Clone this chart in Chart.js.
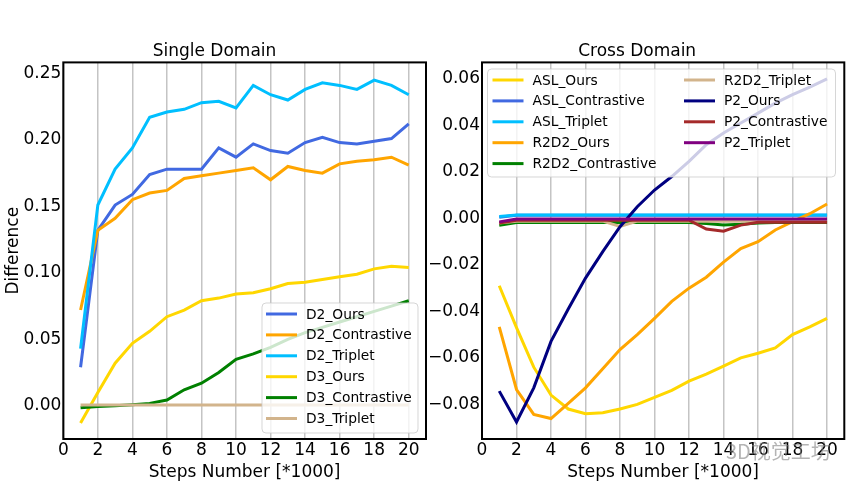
<!DOCTYPE html>
<html>
<head>
<meta charset="utf-8">
<script src="https://cdn.jsdelivr.net/npm/chart.js@4.4.1/dist/chart.umd.min.js"></script>
<style>
  html, body { margin: 0; padding: 0; background: #fff; }
  #wrap { position: relative; width: 860px; height: 489px; overflow: hidden; }
  #single { position: absolute; left: 0; top: 0; }
  #cross { position: absolute; left: 430px; top: 0; }
  #mark { position: absolute; left: 726px; top: 436px; font: 20px 'Noto Sans CJK SC', sans-serif;
          color: rgba(130,130,130,0.6); white-space: nowrap; pointer-events: none; }
</style>
</head>
<body>
<div id="wrap">
  <canvas id="single" width="430" height="489"></canvas>
  <canvas id="cross" width="430" height="489"></canvas>
  <div id="mark">3D视觉工坊</div>
</div>
<script>
// data, steps in thousands
const steps = [1, 2, 3, 4, 5, 6, 7, 8, 9, 10, 11, 12, 13, 14, 15, 16, 17, 18, 19, 20];
const xTicks = [0, 2, 4, 6, 8, 10, 12, 14, 16, 18, 20];
const yTicksSingle = [0, 0.05, 0.10, 0.15, 0.20, 0.25];
const yTicksCross = [-0.08, -0.06, -0.04, -0.02, 0, 0.02, 0.04, 0.06];

// Single Domain
const d2Ours = [0.029, 0.132, 0.151, 0.159, 0.174, 0.178, 0.178, 0.178, 0.194, 0.187, 0.197, 0.192, 0.190, 0.198, 0.202, 0.198, 0.197, 0.199, 0.201, 0.212];
const d2Contrastive = [0.072, 0.132, 0.141, 0.155, 0.160, 0.162, 0.171, 0.173, 0.175, 0.177, 0.179, 0.170, 0.180, 0.177, 0.175, 0.182, 0.184, 0.185, 0.187, 0.181];
const d2Triplet = [0.043, 0.151, 0.178, 0.194, 0.217, 0.221, 0.223, 0.228, 0.229, 0.224, 0.241, 0.234, 0.230, 0.238, 0.243, 0.241, 0.238, 0.245, 0.241, 0.234];
const d3Ours = [-0.013, 0.010, 0.032, 0.047, 0.056, 0.067, 0.072, 0.079, 0.081, 0.084, 0.085, 0.088, 0.092, 0.093, 0.095, 0.097, 0.099, 0.103, 0.105, 0.104];
const d3Contrastive = [-0.0015, -0.0005, 0.0, 0.0008, 0.0018, 0.0043, 0.012, 0.017, 0.025, 0.035, 0.039, 0.044, 0.050, 0.055, 0.059, 0.063, 0.067, 0.071, 0.075, 0.079];
const d3Triplet = [0.0005, 0.0005, 0.0005, 0.0005, 0.0005, 0.0005, 0.0005, 0.0005, 0.0005, 0.0005, 0.0005, 0.0005, 0.0005, 0.0005, 0.0005, 0.0005, 0.0005, 0.0005, 0.0005, 0.0005];

// Cross Domain
const aslOurs = [-0.029, -0.047, -0.064, -0.076, -0.082, -0.084, -0.0836, -0.082, -0.080, -0.077, -0.074, -0.070, -0.067, -0.0636, -0.060, -0.058, -0.0557, -0.050, -0.0467, -0.043];
const aslContrastive = [0.0005, 0.0013, 0.0013, 0.0013, 0.0013, 0.0013, 0.0013, 0.0013, 0.0013, 0.0013, 0.0013, 0.0013, 0.0013, 0.0013, 0.0013, 0.0013, 0.0013, 0.0013, 0.0013, 0.0013];
const aslTriplet = [0.0008, 0.0015, 0.0015, 0.0015, 0.0015, 0.0015, 0.0015, 0.0015, 0.0015, 0.0015, 0.0015, 0.0015, 0.0015, 0.0015, 0.0015, 0.0015, 0.0015, 0.0015, 0.0015, 0.0015];
const r2d2Ours = [-0.0467, -0.0736, -0.0843, -0.0861, -0.0796, -0.0729, -0.0647, -0.0564, -0.050, -0.043, -0.0357, -0.030, -0.0253, -0.0188, -0.013, -0.010, -0.005, -0.0014, 0.002, 0.0062];
const r2d2Contrastive = [-0.003, -0.0018, -0.0018, -0.0018, -0.0018, -0.0018, -0.0018, -0.0018, -0.0018, -0.0018, -0.0018, -0.0018, -0.0022, -0.0028, -0.0025, -0.002, -0.0018, -0.0018, -0.0018, -0.0018];
const r2d2Triplet = [-0.002, -0.0012, -0.0012, -0.0012, -0.0012, -0.0012, -0.0012, -0.0035, -0.0012, -0.0012, -0.0012, -0.0012, -0.0012, -0.0012, -0.0012, -0.0012, -0.0012, -0.0012, -0.0012, -0.0012];
const p2Ours = [-0.0743, -0.0876, -0.0729, -0.0529, -0.039, -0.0257, -0.0143, -0.0036, 0.005, 0.0122, 0.018, 0.0245, 0.0317, 0.0367, 0.041, 0.0453, 0.0496, 0.0532, 0.0565, 0.060];
const p2Contrastive = [-0.002, -0.0008, -0.0008, -0.0008, -0.0008, -0.0008, -0.0008, -0.0008, -0.0008, -0.0008, -0.0008, -0.0008, -0.0046, -0.0055, -0.0029, -0.0017, -0.0017, -0.0017, -0.0017, -0.0017];
const p2Triplet = [-0.0015, -0.0003, -0.0003, -0.0003, -0.0003, -0.0003, -0.0003, -0.0003, -0.0003, -0.0003, -0.0003, -0.0003, -0.0003, -0.0003, -0.0003, -0.0003, -0.0003, -0.0003, -0.0003, -0.0003];

const FONT = 'DejaVu Sans';

function series(label, values, color, i, n) {
    return {
        label: label,
        data: steps.map((s, k) => ({ x: s, y: values[k] })),
        borderColor: color,
        backgroundColor: color,
        borderWidth: 3,
        pointRadius: 0,
        tension: 0,
        fill: false,
        order: n - i   // matplotlib style: later series on top
    };
}

// black box round the plot area
const framePlugin = {
    id: 'frame',
    afterDraw(chart) {
        const a = chart.chartArea, ctx = chart.ctx;
        ctx.save();
        ctx.strokeStyle = '#000';
        ctx.lineWidth = 2;
        ctx.strokeRect(a.left, a.top, a.right - a.left, a.bottom - a.top);
        ctx.restore();
    }
};

// matplotlib-like legend box drawn over the lines
const boxLegend = {
    id: 'boxLegend',
    afterDatasetsDraw(chart, args, opts) {
        const ctx = chart.ctx;
        const ds = chart.data.datasets;
        ctx.save();
        ctx.beginPath();
        ctx.roundRect(opts.x, opts.y, opts.w, opts.h, 4);
        ctx.fillStyle = 'rgba(255,255,255,0.8)';
        ctx.fill();
        ctx.strokeStyle = 'rgba(204,204,204,0.8)';
        ctx.lineWidth = 1;
        ctx.stroke();
        ctx.font = '13.8px "' + FONT + '"';
        ctx.textBaseline = 'middle';
        ctx.fillStyle = '#000';
        ds.forEach((d, i) => {
            const col = Math.floor(i / opts.rows);
            const row = i % opts.rows;
            const cx = opts.colX[col];
            const cy = opts.y + opts.firstRow + row * opts.rowGap;
            ctx.strokeStyle = d.borderColor;
            ctx.lineWidth = 3;
            ctx.beginPath();
            ctx.moveTo(cx, cy);
            ctx.lineTo(cx + 31, cy);
            ctx.stroke();
            ctx.fillText(d.label, cx + 40, cy + 1);
        });
        ctx.restore();
    }
};

function minusFmt(v) {
    return v.toFixed(2).replace('-', '\u2212');
}

function makeOptions(cfg) {
    return {
        responsive: false,
        animation: false,
        layout: { padding: cfg.padding },
        plugins: {
            legend: { display: false },
            tooltip: { enabled: false },
            title: {
                display: true,
                text: cfg.title,
                color: '#000',
                font: { family: FONT, size: 17, weight: 'normal' },
                padding: { top: 41, bottom: 1 }
            },
            boxLegend: cfg.legend
        },
        scales: {
            x: {
                type: 'linear',
                min: 0,
                max: 21,
                afterFit: s => { s.height = 50; },
                afterBuildTicks: s => { s.ticks = xTicks.map(v => ({ value: v })); },
                grid: { display: true, color: '#c4c4c4', lineWidth: 1.5, drawTicks: false },
                border: { display: false },
                ticks: { color: '#000', font: { family: FONT, size: 17 }, padding: 1, maxRotation: 0 },
                title: {
                    display: true,
                    text: 'Steps Number [*1000]',
                    color: '#000',
                    font: { family: FONT, size: 17 },
                    padding: { top: 0, bottom: 6 }
                }
            },
            y: {
                type: 'linear',
                min: cfg.yMin,
                max: cfg.yMax,
                afterFit: s => { s.width = cfg.yWidth; },
                afterBuildTicks: s => { s.ticks = cfg.yTicks.map(v => ({ value: v })); },
                grid: { display: false, drawTicks: false },
                border: { display: false },
                ticks: {
                    color: '#000',
                    font: { family: FONT, size: 17 },
                    padding: 2,
                    callback: v => minusFmt(v)
                },
                title: {
                    display: !!cfg.yTitle,
                    text: cfg.yTitle || '',
                    color: '#000',
                    font: { family: FONT, size: 17 },
                    padding: 0
                }
            }
        }
    };
}

const singleSets = [
    ['D2_Ours', d2Ours, 'royalblue'],
    ['D2_Contrastive', d2Contrastive, 'orange'],
    ['D2_Triplet', d2Triplet, 'deepskyblue'],
    ['D3_Ours', d3Ours, 'gold'],
    ['D3_Contrastive', d3Contrastive, 'green'],
    ['D3_Triplet', d3Triplet, 'tan']
];

const crossSets = [
    ['ASL_Ours', aslOurs, 'gold'],
    ['ASL_Contrastive', aslContrastive, 'royalblue'],
    ['ASL_Triplet', aslTriplet, 'deepskyblue'],
    ['R2D2_Ours', r2d2Ours, 'orange'],
    ['R2D2_Contrastive', r2d2Contrastive, 'green'],
    ['R2D2_Triplet', r2d2Triplet, 'tan'],
    ['P2_Ours', p2Ours, 'navy'],
    ['P2_Contrastive', p2Contrastive, 'brown'],
    ['P2_Triplet', p2Triplet, 'purple']
];

new Chart(document.getElementById('single'), {
    type: 'line',
    data: { datasets: singleSets.map((s, i) => series(s[0], s[1], s[2], i, singleSets.length)) },
    options: makeOptions({
        title: 'Single Domain',
        padding: { left: 3, right: 4, top: 0, bottom: 0 },
        yMin: -0.025, yMax: 0.2583,
        yTicks: yTicksSingle,
        yWidth: 60.3,
        yTitle: 'Difference',
        legend: { x: 262, y: 303, w: 156, h: 130, rows: 6, colX: [266], firstRow: 11, rowGap: 20.9 }
    }),
    plugins: [framePlugin, boxLegend]
});

new Chart(document.getElementById('cross'), {
    type: 'line',
    data: { datasets: crossSets.map((s, i) => series(s[0], s[1], s[2], i, crossSets.length)) },
    options: makeOptions({
        title: 'Cross Domain',
        padding: { left: 0, right: 15.7, top: 0, bottom: 0 },
        yMin: -0.0949, yMax: 0.0671,
        yTicks: yTicksCross,
        yWidth: 52,
        yTitle: null,
        legend: { x: 57.5, y: 69, w: 348, h: 108, rows: 5, colX: [62.5, 254], firstRow: 11, rowGap: 20.9 }
    }),
    plugins: [framePlugin, boxLegend]
});
</script>
</body>
</html>
